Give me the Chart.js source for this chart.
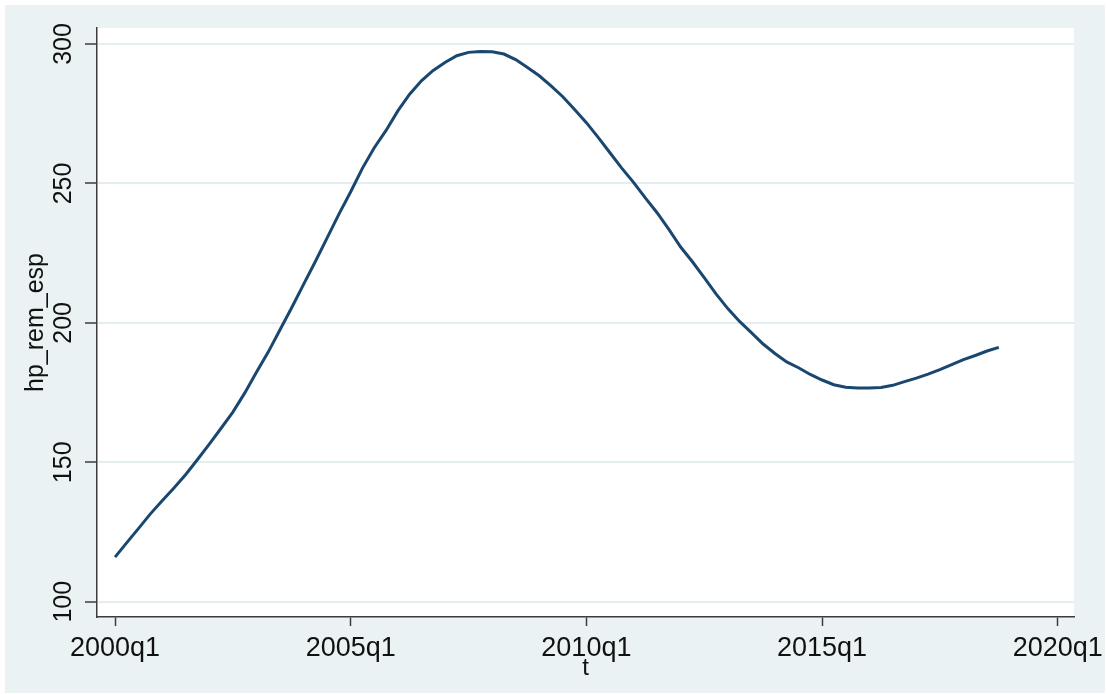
<!DOCTYPE html>
<html>
<head>
<meta charset="utf-8">
<script src="https://cdn.jsdelivr.net/npm/chart.js@4.4.1/dist/chart.umd.min.js"></script>
<style>
  html, body { margin: 0; padding: 0; background: #fff; }
  #wrap { width: 1106px; height: 694px; position: relative; }
</style>
</head>
<body>
<div id="wrap"><canvas id="hpChart"></canvas></div>
<script>
// HP trend of hp_rem_esp, quarterly from 2000q1 (index 0) to 2018q4 (index 75)
const hpRemEsp = [
    116.0, 121.2, 126.3, 131.5, 136.2, 140.8, 145.6, 151.0, 156.5, 162.2,
    168.0, 174.8, 182.3, 189.5, 197.5, 205.5, 213.8, 222.0, 230.5, 239.0,
    247.0, 255.5, 262.8, 269.0, 276.0, 282.0, 286.8, 290.5, 293.4, 295.8,
    297.0, 297.3, 297.2, 296.4, 294.4, 291.6, 288.6, 285.0, 281.1, 276.5,
    271.8, 266.5, 261.0, 255.5, 250.4, 244.8, 239.5, 233.5, 227.2, 221.9,
    216.2, 210.4, 205.1, 200.5, 196.5, 192.4, 189.0, 186.0, 183.9, 181.5,
    179.5, 177.8, 176.9, 176.6, 176.6, 176.8, 177.6, 178.9, 180.2, 181.6,
    183.2, 185.0, 186.8, 188.3, 189.9, 191.2
];

const xTickValues = [0, 20, 40, 60, 80];
const xTickLabels = ['2000q1', '2005q1', '2010q1', '2015q1', '2020q1'];
const yTickValues = [100, 150, 200, 250, 300];

const axisColor = '#3c3c3c';
const gridColor = '#e4edef';
const textColor = '#111';

// background panels + rotated y labels (Stata style)
const stataFrame = {
    id: 'stataFrame',
    beforeDraw(chart) {
        const { ctx, chartArea: a } = chart;
        ctx.save();
        ctx.fillStyle = '#ffffff';
        ctx.fillRect(0, 0, chart.width, chart.height);
        ctx.fillStyle = '#eaf2f3';
        ctx.fillRect(5, 5, chart.width - 6, chart.height - 6);
        ctx.fillStyle = '#ffffff';
        ctx.fillRect(a.left, a.top, a.right - a.left, a.bottom - a.top);
        ctx.restore();
    },
    afterDraw(chart) {
        const ctx = chart.ctx;
        const yScale = chart.scales.y;
        ctx.save();
        ctx.font = '25px "Liberation Sans", Arial, sans-serif';
        ctx.fillStyle = textColor;
        ctx.textAlign = 'center';
        ctx.textBaseline = 'alphabetic';
        yTickValues.forEach(v => {
            ctx.save();
            ctx.translate(71, yScale.getPixelForValue(v));
            ctx.rotate(-Math.PI / 2);
            ctx.fillText(String(v), 0, 0);
            ctx.restore();
        });
        ctx.restore();
    }
};

const ctx = document.getElementById('hpChart').getContext('2d');

new Chart(ctx, {
    type: 'line',
    data: {
        datasets: [{
            label: 'hp_rem_esp',
            data: hpRemEsp.map((v, i) => ({ x: i, y: v })),
            borderColor: '#1a476f',
            borderWidth: 3,
            pointRadius: 0,
            tension: 0,
            fill: false
        }]
    },
    options: {
        responsive: true,
        maintainAspectRatio: false,
        animation: false,
        layout: { padding: { left: 0, top: 28, right: 32, bottom: 0 } },
        plugins: {
            legend: { display: false },
            tooltip: { enabled: false }
        },
        scales: {
            x: {
                type: 'linear',
                min: -1.53,
                max: 81.38,
                afterBuildTicks: (scale) => {
                    scale.ticks = xTickValues.map(v => ({ value: v }));
                },
                afterFit: (scale) => {
                    scale.height = 77;
                    scale.paddingLeft = 0;
                    scale.paddingRight = 0;
                },
                ticks: {
                    autoSkip: false,
                    maxRotation: 0,
                    minRotation: 0,
                    padding: 6,
                    color: textColor,
                    font: { family: '"Liberation Sans", Arial, sans-serif', size: 27 },
                    callback: (value) => xTickLabels[xTickValues.indexOf(value)]
                },
                grid: {
                    drawOnChartArea: false,
                    drawTicks: true,
                    tickLength: 9,
                    tickColor: axisColor,
                    tickWidth: 1.5
                },
                border: { display: true, color: axisColor, width: 1.5 },
                title: {
                    display: true,
                    text: 't',
                    color: textColor,
                    font: { family: '"Liberation Sans", Arial, sans-serif', size: 24 },
                    padding: { top: 0, bottom: 11 }
                }
            },
            y: {
                type: 'linear',
                min: 94.51,
                max: 305.74,
                afterBuildTicks: (scale) => {
                    scale.ticks = yTickValues.map(v => ({ value: v }));
                },
                afterFit: (scale) => {
                    scale.width = 97;
                    scale.paddingTop = 0;
                    scale.paddingBottom = 0;
                },
                ticks: { display: false },
                grid: {
                    color: gridColor,
                    lineWidth: 2,
                    drawTicks: true,
                    tickLength: 12,
                    tickColor: axisColor,
                    tickWidth: 1.5
                },
                border: { display: true, color: axisColor, width: 1.5 },
                title: {
                    display: true,
                    text: 'hp_rem_esp',
                    color: textColor,
                    font: { family: '"Liberation Sans", Arial, sans-serif', size: 25 },
                    padding: { top: 21, bottom: 0 }
                }
            }
        }
    },
    plugins: [stataFrame]
});
</script>
</body>
</html>
